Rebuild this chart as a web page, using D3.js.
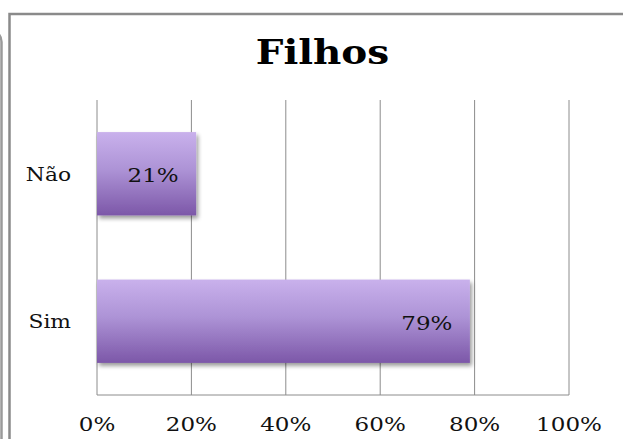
<!doctype html>
<html lang="en">
<head>
  <meta charset="utf-8">
  <style>
    body {
      margin: 0;
      background-color: white;
    }
    svg {
      display: block;
      background-color: white;
    }
    .grid line {
      stroke: #8c8c8c;
      stroke-width: 1px;
    }
    .tick-label, .cat-label, .val-label {
      font-family: "DejaVu Serif", serif;
      fill: #111;
    }
  </style>
</head>
<body>
<script src="https://cdn.jsdelivr.net/npm/d3@7"></script>
<script>
var width = 623,
    height = 439;

// data
var categories = ["Não", "Sim"];
var values = [0.21, 0.79];
var tickValues = [0, 0.2, 0.4, 0.6, 0.8, 1.0];
var tickLabels = ["0%", "20%", "40%", "60%", "80%", "100%"];

var plot = {left: 97, right: 569, top: 100, bottom: 395};

// the original text is drawn a bit wide, so squeeze it out horizontally
function stretched(px, py, sx) {
  return "translate(" + px + "," + py + ")scale(" + sx + ",1)";
}

var x = d3.scaleLinear()
  .domain([0, 1])
  .range([plot.left, plot.right]);

var y = d3.scaleBand()
  .domain(categories)
  .range([plot.top, plot.bottom])
  .paddingInner(0.435)
  .paddingOuter(0.2175);

var svg = d3.select("body").append("svg")
  .attr("width", width)
  .attr("height", height);

var defs = svg.append("defs");
var grad = defs.append("linearGradient")
  .attr("id", "barGrad")
  .attr("x1", 0).attr("y1", 0).attr("x2", 0).attr("y2", 1);
grad.append("stop").attr("offset", "0%").attr("stop-color", "#c9b1ec");
grad.append("stop").attr("offset", "45%").attr("stop-color", "#ad93d6");
grad.append("stop").attr("offset", "100%").attr("stop-color", "#7c57a8");

var shadow = defs.append("filter")
  .attr("id", "shadow")
  .attr("x", "-10%").attr("y", "-10%")
  .attr("width", "130%").attr("height", "140%");
shadow.append("feGaussianBlur")
  .attr("in", "SourceAlpha").attr("stdDeviation", 2);
shadow.append("feOffset").attr("dx", 2).attr("dy", 3).attr("result", "off");
shadow.append("feComponentTransfer").append("feFuncA")
  .attr("type", "linear").attr("slope", 0.4);
var merge = shadow.append("feMerge");
merge.append("feMergeNode");
merge.append("feMergeNode").attr("in", "SourceGraphic");

// neighbouring frame edge at the far left
svg.append("path")
  .attr("d", "M1.5,439 L1.5,42 Q1.5,34 -6,31")
  .attr("fill", "none")
  .attr("stroke", "#9a9a9a")
  .attr("stroke-width", 2.5);

// chart frame
svg.append("rect")
  .attr("x", 9.5)
  .attr("y", 14)
  .attr("width", 640)
  .attr("height", 460)
  .attr("fill", "white")
  .attr("stroke", "#8a8a8a")
  .attr("stroke-width", 2.5);

// title
svg.append("text")
  .attr("transform", stretched(322.5, 64, 1.18))
  .attr("text-anchor", "middle")
  .style("font-family", "'DejaVu Serif', serif")
  .style("font-weight", "bold")
  .style("font-size", "33px")
  .style("fill", "#000")
  .text("Filhos");

// vertical gridlines
svg.append("g")
  .attr("class", "grid")
  .selectAll("line")
  .data(tickValues)
  .enter().append("line")
  .attr("x1", function(d) { return x(d); })
  .attr("x2", function(d) { return x(d); })
  .attr("y1", plot.top)
  .attr("y2", plot.bottom);

// bottom axis line
svg.append("line")
  .attr("x1", plot.left).attr("x2", plot.right)
  .attr("y1", plot.bottom).attr("y2", plot.bottom)
  .attr("stroke", "#8c8c8c");

// bars
svg.append("g")
  .selectAll("rect")
  .data(values)
  .enter().append("rect")
  .attr("x", x(0))
  .attr("y", function(d, i) { return y(categories[i]); })
  .attr("width", function(d) { return x(d) - x(0); })
  .attr("height", y.bandwidth())
  .attr("fill", "url(#barGrad)")
  .attr("filter", "url(#shadow)");

// value labels
svg.append("g")
  .selectAll("text")
  .data(values)
  .enter().append("text")
  .attr("class", "val-label")
  .attr("transform", function(d, i) {
    return stretched(x(d) - 17.5, y(categories[i]) + y.bandwidth() / 2 + 8.5, 1.21);
  })
  .attr("text-anchor", "end")
  .style("font-size", "19px")
  .text(function(d) { return Math.round(d * 100) + "%"; });

// category labels
svg.append("g")
  .selectAll("text")
  .data(categories)
  .enter().append("text")
  .attr("class", "cat-label")
  .attr("transform", function(d) {
    return stretched(71, y(d) + y.bandwidth() / 2 + 7, 1.21);
  })
  .attr("text-anchor", "end")
  .style("font-size", "18px")
  .text(function(d) { return d; });

// x tick labels
svg.append("g")
  .selectAll("text")
  .data(tickValues)
  .enter().append("text")
  .attr("class", "tick-label")
  .attr("transform", function(d) { return stretched(x(d), 430.5, 1.28); })
  .attr("text-anchor", "middle")
  .style("font-size", "18px")
  .text(function(d, i) { return tickLabels[i]; });
</script>
</body>
</html>
